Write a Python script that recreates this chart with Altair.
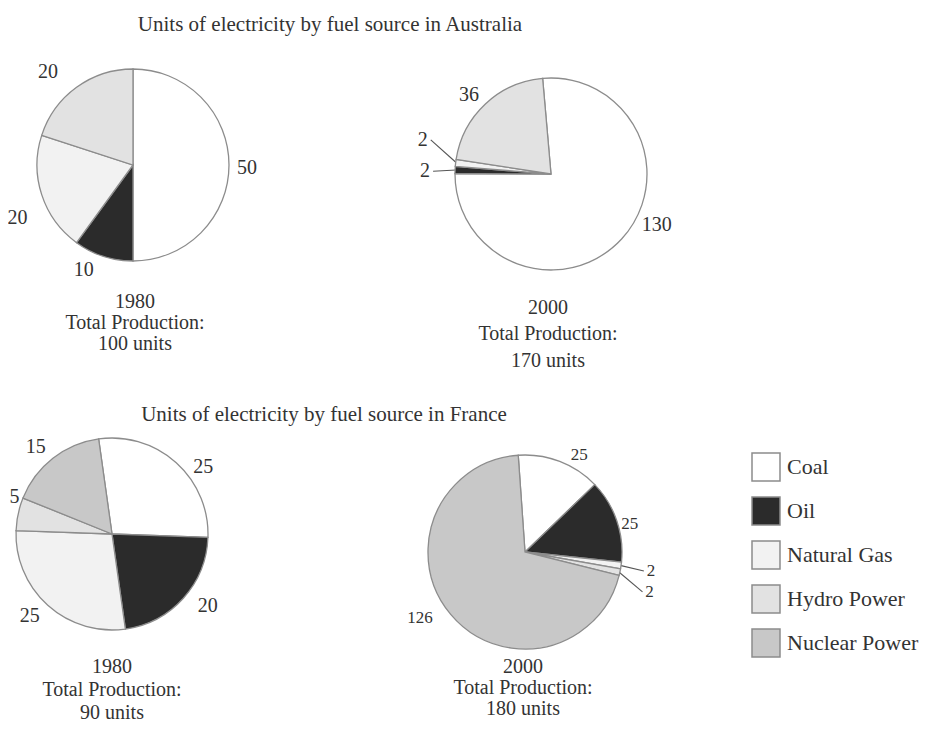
import math
import altair as alt
import pandas as pd

# ---------------- data ----------------
SOURCES = ["Coal", "Oil", "Natural Gas", "Hydro Power", "Nuclear Power"]
AUSTRALIA_1980 = [50, 10, 20, 20, 0]
AUSTRALIA_2000 = [130, 2, 2, 36, 0]
FRANCE_1980 = [25, 20, 25, 5, 15]
FRANCE_2000 = [25, 25, 2, 2, 126]
YEARS = ["1980", "2000", "1980", "2000"]
TOTAL_LABELS = ["100 units", "170 units", "90 units", "180 units"]
TITLES = [
    "Units of electricity by fuel source in Australia",
    "Units of electricity by fuel source in France",
]
SERIES = [AUSTRALIA_1980, AUSTRALIA_2000, FRANCE_1980, FRANCE_2000]

# ---------------- style / layout ----------------
FILLS = ["#ffffff", "#2b2b2b", "#f2f2f2", "#e2e2e2", "#c8c8c8"]
FONT = "Liberation Serif"
INK = "#333333"
EDGE = "#8c8c8c"
M = 8  # page margin
LABEL_GAP = 18

PIES = [
    dict(cx=133, cy=165, r=96, rot=0, fs=20, cap_x=135, cap_y=[302, 323, 344],
         nudge={"Coal": (0, 3), "Oil": (-14, -3), "Natural Gas": (-7, 18), "Hydro Power": (-18, -1)},
         leaders={}),
    dict(cx=551, cy=174, r=96, rot=-5, fs=20, cap_x=548, cap_y=[308, 334, 361],
         nudge={"Coal": (22, -26), "Oil": (-12, 2), "Natural Gas": (-15, -21), "Hydro Power": (-4, 4)},
         leaders={"Oil": 8, "Natural Gas": 8}),
    dict(cx=112, cy=534, r=96, rot=-8, fs=20, cap_x=112, cap_y=[667, 690, 713],
         nudge={"Coal": (15, 18), "Oil": (11, -4), "Natural Gas": (-6, -3), "Hydro Power": (14, -13),
                "Nuclear Power": (-6, 3)},
         leaders={}),
    dict(cx=525, cy=552, r=97, rot=-4, fs=17, cap_x=523, cap_y=[667, 688, 709],
         nudge={"Coal": (13, 10), "Oil": (-4, 9), "Natural Gas": (12, 3), "Hydro Power": (12, 16),
                "Nuclear Power": (-17, -8)},
         leaders={"Natural Gas": -7, "Hydro Power": -7}),
]
TITLE_POS = [(330, 25), (324, 415)]

legend = alt.Legend(
    title=None, orient="none", legendX=751 - M, legendY=452 - M,
    symbolType="square", symbolSize=784, symbolStrokeColor=EDGE, symbolStrokeWidth=1.5,
    symbolOpacity=1, labelFont=FONT, labelFontSize=22, labelColor=INK,
    rowPadding=10, labelOffset=6, padding=0,
)
fill_scale = alt.Scale(domain=SOURCES, range=FILLS)


def text_layer(label, x, y, size=22):
    return alt.Chart(pd.DataFrame({"label": [label]})).mark_text(
        font=FONT, fontSize=size, color=INK, align="center", baseline="middle"
    ).encode(text="label:N", x=alt.value(x - M), y=alt.value(y - M))


layers = []
for i, (vals, pie) in enumerate(zip(SERIES, PIES)):
    df = pd.DataFrame({"source": SOURCES, "value": vals, "k": list(range(len(SOURCES)))})
    df = df[df["value"] > 0]
    total = float(df["value"].sum())
    rot = math.radians(pie["rot"])
    theta_scale = alt.Scale(domain=[0, total], range=[rot, rot + 2 * math.pi])
    base = alt.Chart(df).transform_window(
        cum="sum(value)", sort=[alt.SortField("k")], frame=[None, 0]
    ).transform_calculate(
        start="datum.cum - datum.value", mid="datum.cum - datum.value / 2"
    )
    pos = dict(x=alt.value(pie["cx"] - M), y=alt.value(pie["cy"] - M))
    arc = base.mark_arc(radius=pie["r"], stroke=EDGE, strokeWidth=1.3).encode(
        theta=alt.Theta("start:Q", scale=theta_scale, stack=False),
        theta2="cum:Q",
        fill=alt.Fill("source:N", scale=fill_scale, legend=legend),
        **pos,
    )
    parts = [arc]
    cum = 0.0
    for s, v in zip(SOURCES, vals):
        if v == 0:
            continue
        mid_angle = rot + 2 * math.pi * (cum + v / 2) / total
        cum += v
        dx, dy = pie["nudge"].get(s, (0, 0))
        parts.append(
            base.transform_filter(alt.datum.source == s).mark_text(
                radius=pie["r"] + LABEL_GAP, dx=dx, dy=dy, font=FONT, fontSize=pie["fs"],
                color=INK, align="center", baseline="middle",
            ).encode(
                theta=alt.Theta("mid:Q", scale=theta_scale, stack=False),
                text="value:Q",
                **pos,
            )
        )
        if s in pie["leaders"]:
            # leader line from the label to the rim of its thin slice
            lx = pie["cx"] + (pie["r"] + LABEL_GAP) * math.sin(mid_angle) + dx + pie["leaders"][s]
            ly = pie["cy"] - (pie["r"] + LABEL_GAP) * math.cos(mid_angle) + dy
            ex = pie["cx"] + (pie["r"] - 1) * math.sin(mid_angle)
            ey = pie["cy"] - (pie["r"] - 1) * math.cos(mid_angle)
            layers.append(
                alt.Chart(pd.DataFrame({"source": [s]})).mark_rule(
                    color="#555555", strokeWidth=1.1
                ).encode(
                    x=alt.value(lx - M), y=alt.value(ly - M),
                    x2=alt.value(ex - M), y2=alt.value(ey - M),
                )
            )
    layers.append(alt.layer(*parts))
    for line, y in zip([YEARS[i], "Total Production:", TOTAL_LABELS[i]], pie["cap_y"]):
        layers.append(text_layer(line, pie["cap_x"], y, size=20))

for t, (x, y) in zip(TITLES, TITLE_POS):
    layers.append(text_layer(t, x, y, size=21))

chart = alt.layer(*layers).resolve_scale(theta="independent").properties(
    width=927 - 2 * M, height=733 - 2 * M, padding=0,
    autosize=alt.AutoSizeParams(type="none"), background="white",
).configure_view(strokeWidth=0)

chart.save("out.html", embed_options={"renderer": "svg", "actions": False})
